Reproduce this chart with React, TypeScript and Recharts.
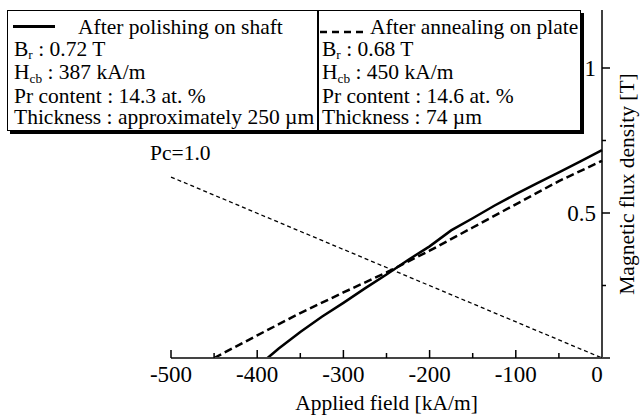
import React from "react";
import { LineChart, Line, XAxis, YAxis, Label } from "recharts";

// Demagnetization curves (field in kA/m, flux density in T)
const polishedField = [-388, -375, -350, -325, -300, -275, -250, -225, -200, -175, -150, -125, -100, -75, -50, -25, 0];
const polishedFlux = [0, 0.033, 0.09, 0.142, 0.19, 0.24, 0.288, 0.338, 0.385, 0.44, 0.482, 0.525, 0.565, 0.603, 0.64, 0.678, 0.717];

const annealedField = [-450, -400, -350, -300, -250, -200, -150, -100, -50, 0];
const annealedFlux = [0, 0.078, 0.155, 0.226, 0.295, 0.37, 0.45, 0.53, 0.61, 0.68];

// Permeance line Pc = 1.0
const loadField = [-500, 0];
const loadFlux = [0.624, 0];

const fieldTicks = [-500, -450, -400, -350, -300, -250, -200, -150, -100, -50, 0];
const fluxTicks = [0, 0.25, 0.5, 0.75, 1];
const fluxTickLabels: Record<number, string> = { 0.5: "0.5", 1: "1" };

const FONT = '"Liberation Serif", "Times New Roman", serif';

const toPoints = (xs: number[], ys: number[]) => xs.map((h, i) => ({ h, b: ys[i] }));

const FieldTick = (props: any) => {
  const { x, y, payload } = props;
  const v = payload.value as number;
  const major = v % 100 === 0;
  return (
    <g>
      {v !== 0 && <line x1={x} y1={y} x2={x} y2={y - (major ? 8 : 5)} stroke="#000" strokeWidth={1.5} />}
      {v === 0 && <line x1={x} y1={y} x2={x + 8} y2={y} stroke="#444" strokeWidth={2} />}
      {major && (
        <text x={v === 0 ? x - 5 : x} y={y + 24} textAnchor="middle" fontSize={23} fontFamily={FONT} fill="#000">
          {v}
        </text>
      )}
    </g>
  );
};

const FluxTick = (props: any) => {
  const { x, y, payload } = props;
  const v = payload.value as number;
  if (v === 0) return <g />;
  const label = fluxTickLabels[v];
  return (
    <g>
      <line x1={x} y1={y} x2={x + (label ? 8 : 4)} y2={y} stroke="#000" strokeWidth={1.5} />
      {label && (
        <text x={x - 6} y={y + 8} textAnchor="end" fontSize={23} fontFamily={FONT} fill="#000">
          {label}
        </text>
      )}
    </g>
  );
};

const boxStyle: React.CSSProperties = {
  position: "absolute",
  top: 10,
  height: 121,
  border: "1.5px solid #000",
  boxShadow: "3px 3px 0 #000",
  background: "#fff",
  boxSizing: "border-box",
};

const textStyle: React.CSSProperties = {
  position: "absolute",
  fontFamily: FONT,
  fontSize: 21.5,
  lineHeight: "21.5px",
  whiteSpace: "nowrap",
  color: "#000",
};

const subStyle: React.CSSProperties = {
  fontSize: "0.62em",
  verticalAlign: "baseline",
  position: "relative",
  top: "0.28em",
};

export default function App() {
  return (
    <div style={{ position: "absolute", left: 0, top: 0, width: 640, height: 417, background: "#fff" }}>
      <LineChart width={640} height={417} margin={{ top: 10, right: 8, bottom: 29, left: 171 }}>
        <XAxis
          type="number"
          dataKey="h"
          domain={[-500, 0]}
          ticks={fieldTicks}
          interval={0}
          tickSize={0}
          tickMargin={0}
          height={30}
          axisLine={{ stroke: "#444", strokeWidth: 2 }}
          tickLine={false}
          tick={<FieldTick />}
        >
          <Label value="Applied field [kA/m]" position="center" dy={29} fontSize={21.5} fontFamily={FONT} fill="#000" />
        </XAxis>
        <YAxis
          type="number"
          dataKey="b"
          orientation="right"
          domain={[0, 1.2]}
          ticks={fluxTicks}
          interval={0}
          tickSize={0}
          tickMargin={0}
          width={30}
          axisLine={{ stroke: "#000", strokeWidth: 1.5 }}
          tickLine={false}
          tick={<FluxTick />}
        >
          <Label
            value="Magnetic flux density [T]"
            position="center"
            angle={-90}
            dx={9}
            fontSize={21.5}
            fontFamily={FONT}
            fill="#000"
          />
        </YAxis>
        <Line
          data={toPoints(loadField, loadFlux)}
          dataKey="b"
          type="linear"
          stroke="#000"
          strokeWidth={1.3}
          strokeDasharray="4 3"
          dot={false}
          activeDot={false}
          isAnimationActive={false}
        />
        <Line
          data={toPoints(annealedField, annealedFlux)}
          dataKey="b"
          type="linear"
          stroke="#000"
          strokeWidth={2.5}
          strokeDasharray="8 4"
          dot={false}
          activeDot={false}
          isAnimationActive={false}
        />
        <Line
          data={toPoints(polishedField, polishedFlux)}
          dataKey="b"
          type="linear"
          stroke="#000"
          strokeWidth={2.5}
          dot={false}
          activeDot={false}
          isAnimationActive={false}
        />
      </LineChart>

      {/* legend box: after polishing on shaft */}
      <div style={{ ...boxStyle, left: 7, width: 311 }} />
      <div style={{ position: "absolute", left: 13, top: 25, width: 42, height: 2.5, background: "#000" }} />
      <div style={{ ...textStyle, left: 78, top: 17 }}>After polishing on shaft</div>
      <div style={{ ...textStyle, left: 14, top: 38.5 }}>
        <div>B<sub style={subStyle}>r</sub> : 0.72 T</div>
        <div>H<sub style={subStyle}>cb</sub> : 387 kA/m</div>
        <div>Pr content : 14.3 at. %</div>
        <div>Thickness : approximately 250 µm</div>
      </div>

      {/* legend box: after annealing on plate */}
      <div style={{ ...boxStyle, left: 318, width: 263 }} />
      <svg style={{ position: "absolute", left: 320, top: 28 }} width={44} height={8}>
        <line x1={0} y1={4} x2={44} y2={4} stroke="#000" strokeWidth={2.5} strokeDasharray="7 5" />
      </svg>
      <div style={{ ...textStyle, left: 370, top: 17 }}>After annealing on plate</div>
      <div style={{ ...textStyle, left: 322, top: 38.5 }}>
        <div>B<sub style={subStyle}>r</sub> : 0.68 T</div>
        <div>H<sub style={subStyle}>cb</sub> : 450 kA/m</div>
        <div>Pr content : 14.6 at. %</div>
        <div>Thickness : 74 µm</div>
      </div>

      <div style={{ ...textStyle, left: 150, top: 143 }}>Pc=1.0</div>
    </div>
  );
}
